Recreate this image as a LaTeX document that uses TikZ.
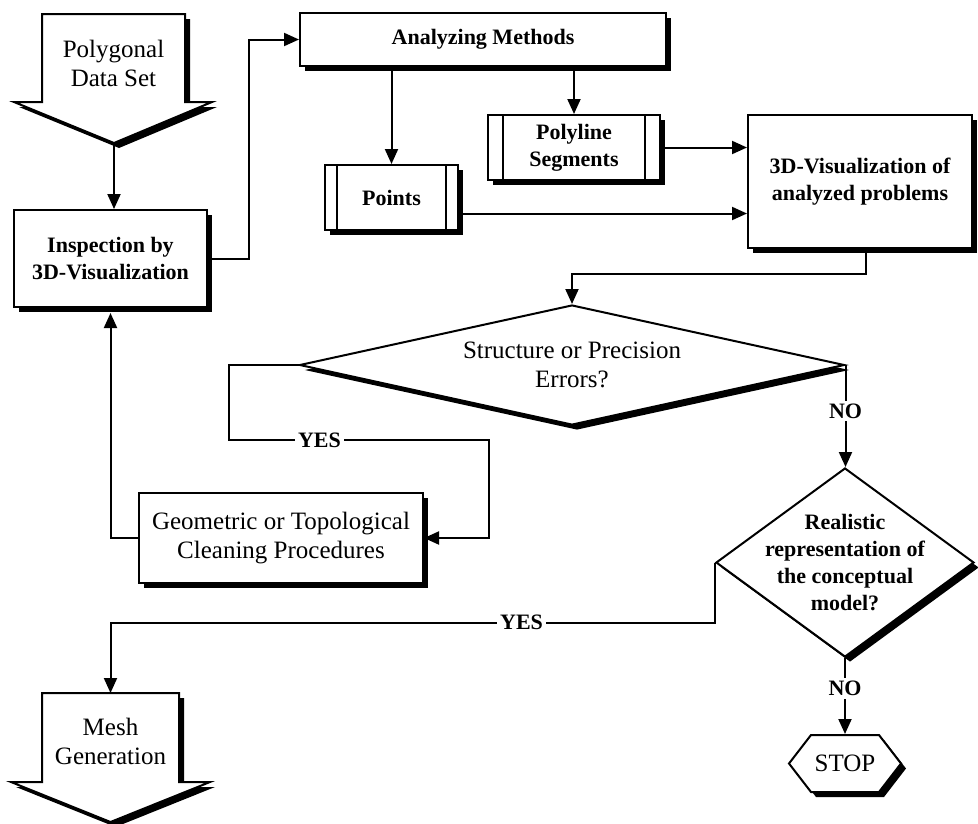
\documentclass[tikz,border=0pt]{standalone}
\usepackage{fontspec}
\setmainfont{Liberation Serif}
\usetikzlibrary{arrows.meta,shapes.geometric,shadows,calc}
\begin{document}
\begin{tikzpicture}[x=1pt,y=-1pt,line width=2pt,
  shad/.style={drop shadow={shadow xshift=5pt,shadow yshift=-5pt,opacity=1,fill=black}},
  reg/.style={font=\fontsize{25}{29}\selectfont},
  bld/.style={font=\fontsize{22}{27}\selectfont\bfseries},
  box/.style={draw,fill=white,shad,rectangle,inner sep=2pt,align=center},
  dia/.style={diamond,draw,fill=white,shad,inner sep=0pt},
  conn/.style={-{Triangle[length=15pt,width=13pt]}},
  lbl/.style={fill=white,bld,inner sep=3pt},
]
\useasboundingbox (0,0) rectangle (978,823);

% Polygonal data set (down arrow)
\draw[fill=white,shad] (42,14) -- (185,14) -- (185,102) -- (212,102) -- (114,143) -- (14,102) -- (42,102) -- cycle;
\node[reg,align=center] (pds) at (113.5,63) {Polygonal\\Data Set};
\coordinate (pdstip) at (114,143);

% Mesh generation (down arrow)
\draw[fill=white,shad] (42,693) -- (179,693) -- (179,782) -- (210,782) -- (110.5,822) -- (11,782) -- (42,782) -- cycle;
\node[reg,align=center] (mesh) at (110.5,741) {Mesh\\Generation};
\coordinate (meshtop) at (110.5,693);

% boxes
\node[box,bld,minimum width=193,minimum height=97] (insp) at (110.5,258.5) {Inspection by\\3D-Visualization};
\node[box,bld,minimum width=366,minimum height=53] (am) at (483,39.5) {Analyzing Methods};
\node[box,bld,minimum width=172,minimum height=65] (poly) at (574,147.5) {Polyline\\Segments};
\draw ([xshift=16pt]poly.north west) -- ([xshift=16pt]poly.south west);
\draw ([xshift=-16pt]poly.north east) -- ([xshift=-16pt]poly.south east);
\node[box,bld,minimum width=133,minimum height=65] (points) at (391.5,197.5) {Points};
\draw ([xshift=13pt]points.north west) -- ([xshift=13pt]points.south west);
\draw ([xshift=-13pt]points.north east) -- ([xshift=-13pt]points.south east);
\node[box,bld,minimum width=224,minimum height=133] (viz) at (860,181.5) {3D-Visualization of\\analyzed problems};
\node[box,reg,minimum width=284,minimum height=90] (clean) at (281,538) {Geometric or Topological\\Cleaning Procedures};

% decisions
\node[dia,minimum width=545,minimum height=120] (d1) at (572,365) {};
\node[reg,align=center] (d1t) at (d1.center) {Structure or Precision\\Errors?};
\node[dia,minimum width=258,minimum height=189] (d2) at (845,562.5) {};
\node[bld,align=center] (d2t) at (d2.center) {Realistic\\representation of\\the conceptual\\model?};

% stop
\draw[fill=white,shad] (789,763.5) -- (811,735) -- (879,735) -- (901,763.5) -- (879,792) -- (811,792) -- cycle;
\node[reg,minimum width=112,minimum height=57,inner sep=0pt] (stop) at (845,763.5) {STOP};

% connectors
\draw[conn] (pdstip) -- (pdstip |- insp.north);
\draw[conn] (insp.east) -- ++(41,0) |- (am.west);
\draw[conn] (am.south -| points.north) -- (points.north);
\draw[conn] (am.south -| poly.north) -- (poly.north);
\draw[conn] (poly.east) -- (poly.east -| viz.west);
\draw[conn] ([yshift=-16pt]points.east) -- ([yshift=-16pt]points.east -| viz.west);
\draw[conn] ([xshift=6pt]viz.south) -- ++(0,25) -| (d1.north);
\draw[conn] (d1.west) -- ++(-70,0) -- ++(0,75) -- ++(260,0) node[lbl,pos=0.35]{YES} |- (clean.east);
\draw[conn,shorten >=5pt] (clean.west) -| (insp.south);
\draw[conn] (d1.east) -- (d1.east |- d2.north) node[lbl,pos=0.45]{NO};
\draw[conn] (d2.west) -- ++(0,60) -| (meshtop) node[lbl,pos=0.16]{YES};
\draw[conn] (d2.south) -- (stop.north) node[lbl,pos=0.4]{NO};
\end{tikzpicture}
\end{document}
